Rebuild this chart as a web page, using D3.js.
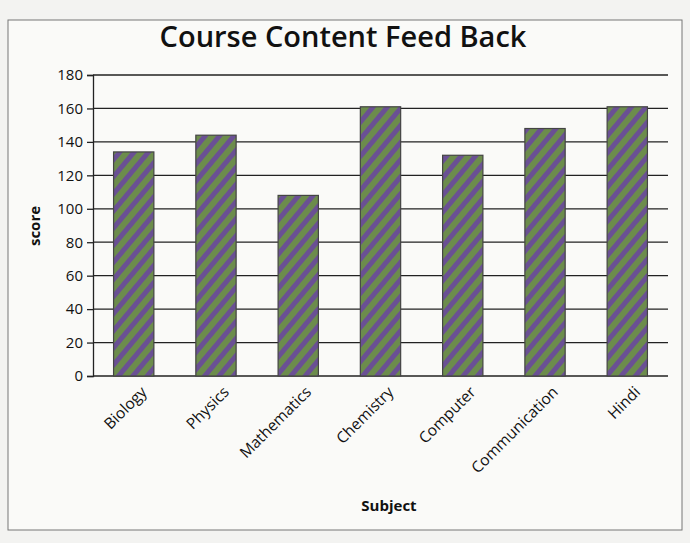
<!DOCTYPE html>
<html lang="en">
<head>
    <meta charset="UTF-8">
    <title>Course Content Feed Back</title>
    <script src="https://d3js.org/d3.v7.min.js"></script>
    <style>
        body {margin: 0; background: #f3f3f1;}
        text {font-family: "Open Sans", sans-serif; fill: #111;}
    </style>
</head>
<body>
<script>
    const width = 690;
    const height = 543;

    const subjects = ["Biology", "Physics", "Mathematics", "Chemistry", "Computer", "Communication", "Hindi"];
    const scores   = [134, 144, 108, 161, 132, 148, 161];
    const yTicks   = [0, 20, 40, 60, 80, 100, 120, 140, 160, 180];

    const margin = {left: 93, right: 22, top: 75, bottom: 167};

    const svg = d3.select("body").append("svg")
            .attr("width", width).attr("height", height);

    // striped fill like the printed bars
    const pat = svg.append("defs").append("pattern")
            .attr("id", "stripes")
            .attr("patternUnits", "userSpaceOnUse")
            .attr("width", 11).attr("height", 11)
            .attr("patternTransform", "rotate(40)");
    pat.append("rect").attr("width", 11).attr("height", 11).attr("fill", "#6c8c4c");
    pat.append("rect").attr("width", 5).attr("height", 11).attr("fill", "#6a5094");

    // page frame
    svg.append("rect")
            .attr("x", 8).attr("y", 20)
            .attr("width", 674).attr("height", 510)
            .attr("fill", "#fafaf8")
            .attr("stroke", "#777").attr("stroke-width", 1);

    const x = d3.scaleBand()
            .domain(subjects)
            .range([margin.left, width - margin.right])
            .paddingInner(0.51).paddingOuter(0.25);

    const y = d3.scaleLinear()
            .domain([0, 180])
            .range([height - margin.bottom, margin.top]);

    // gridlines
    svg.append("g")
            .selectAll("line")
            .data(yTicks)
            .join("line")
            .attr("x1", margin.left).attr("x2", width - margin.right)
            .attr("y1", d => y(d)).attr("y2", d => y(d))
            .attr("stroke", "#222").attr("stroke-width", 1.3);

    // y axis
    const yAxis = svg.append("g")
            .attr("transform", `translate(${margin.left},0)`)
            .call(d3.axisLeft(y).tickValues(yTicks).tickSize(6).tickPadding(4));
    yAxis.select(".domain").attr("stroke", "#222").attr("stroke-width", 1.3);
    yAxis.selectAll(".tick line").attr("stroke", "#222").attr("stroke-width", 1.3);
    yAxis.selectAll("text")
            .style("font-family", '"Open Sans", sans-serif')
            .style("font-size", "15px").attr("fill", "#111");

    // bars
    svg.append("g")
            .selectAll("rect")
            .data(subjects)
            .join("rect")
            .attr("x", d => x(d))
            .attr("y", (d, i) => y(scores[i]))
            .attr("width", x.bandwidth())
            .attr("height", (d, i) => y(0) - y(scores[i]))
            .attr("fill", "url(#stripes)")
            .attr("stroke", "#444").attr("stroke-width", 1.2);

    // x labels
    svg.append("g")
            .selectAll("text")
            .data(subjects)
            .join("text")
            .attr("text-anchor", "end")
            .attr("transform", d => `translate(${x(d) + x.bandwidth() / 2 + 14},${y(0) + 17}) rotate(-45)`)
            .style("font-size", "15.5px")
            .text(d => d);

    // titles
    svg.append("text")
            .attr("x", 343).attr("y", 47)
            .attr("text-anchor", "middle")
            .style("font-size", "29px").style("font-weight", 600)
            .text("Course Content Feed Back");

    svg.append("text")
            .attr("transform", "translate(40,226) rotate(-90)")
            .attr("text-anchor", "middle")
            .style("font-size", "15px").style("font-weight", 700)
            .text("score");

    svg.append("text")
            .attr("x", 389).attr("y", 511)
            .attr("text-anchor", "middle")
            .style("font-size", "15px").style("font-weight", 700)
            .text("Subject");
</script>
</body>
</html>
